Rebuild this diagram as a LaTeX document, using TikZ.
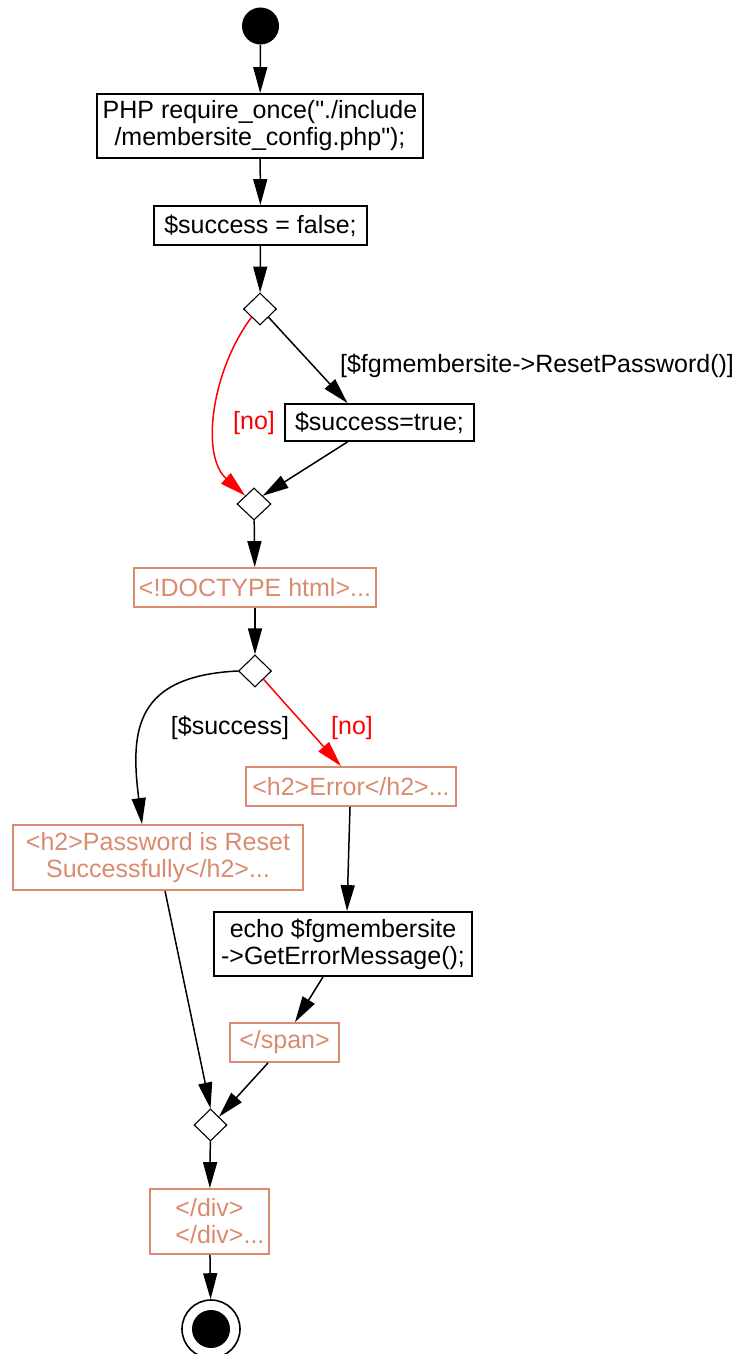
\documentclass[tikz,border=0pt]{standalone}
\usepackage{fontspec}
\setmainfont{Liberation Sans}[Ligatures=TeXOff]
\usetikzlibrary{shapes.geometric,arrows.meta}
\definecolor{htmlcol}{RGB}{218,138,110}

\begin{document}
\begin{tikzpicture}[x=1pt,y=-1pt,
  every node/.style={font=\fontsize{25}{27}\selectfont},
  action/.style={draw=black, line width=1.8pt, rectangle, inner sep=0pt, align=center, text=black},
  markup/.style={draw=htmlcol, line width=1.8pt, rectangle, inner sep=0pt, align=center, text=htmlcol},
  choice/.style={draw=black, line width=1.1pt, diamond, inner sep=0pt, minimum width=33pt, minimum height=32pt, fill=white},
  flow/.style={line width=1.5pt, -{Triangle[length=26pt,width=14pt]}},
  noflow/.style={flow, red},
  guard/.style={inner sep=0pt, text=black},
  noguard/.style={inner sep=0pt, text=red},
]
\useasboundingbox (0,0) rectangle (739,1354);

% activity nodes
\node[circle, fill=black, inner sep=0pt, minimum size=37pt] (start) at (260.5,26) {};
\node[action, minimum width=326pt, minimum height=64pt] (b1) at (260,126)
  {PHP require\_once("./include\\/membersite\_config.php");};
\node[action, minimum width=213pt, minimum height=39pt] (b2) at (260.5,225.5) {\$success = false;};
\node[choice] (d1) at (260,309) {};
\node[action, minimum width=189pt, minimum height=37pt] (b3) at (379.5,422.5) {\$success=true;};
\node[choice, minimum width=34pt] (d2) at (254,504) {};
\node[markup, minimum width=242pt, minimum height=39pt] (b4) at (255,587.5) {<!DOCTYPE html>...};
\node[choice] (d3) at (255,671) {};
\node[markup, minimum width=210pt, minimum height=39pt] (b5) at (351,786.5) {<h2>Error</h2>...};
\node[markup, minimum width=290pt, minimum height=65pt] (b6) at (158,857.5)
  {<h2>Password is Reset\\Successfully</h2>...};
\node[action, minimum width=258pt, minimum height=64pt] (b7) at (343,944)
  {echo \$fgmembersite\\->GetErrorMessage();};
\node[markup, minimum width=109pt, minimum height=39pt] (b8) at (284.5,1042.5) {</span>};
\node[choice] (d4) at (210.5,1125) {};
\node[markup, minimum width=119pt, minimum height=65pt] (b9) at (209.5,1221.5)
  {</div>\\\phantom{...}</div>...};
\node[circle, draw=black, line width=1.6pt, inner sep=0pt, minimum size=58pt] (finish) at (211,1329) {};
\node[circle, fill=black, inner sep=0pt, minimum size=38pt] (finishdot) at (finish) {};

% guards
\node[guard] (lreset) at (537,366) {[\$fgmembersite->ResetPassword()]};
\node[noguard] (lno1) at (254,423) {[no]};
\node[guard] (lsucc) at (230,728) {[\$success]};
\node[noguard] (lno2) at (352,728) {[no]};

% transitions
\draw[flow] (start) -- (b1);
\draw[flow] (b1) -- (b2);
\draw[flow] (b2) -- (d1);
\draw[flow] (d1.south east) -- ([xshift=-32pt]b3.north);
\draw[noflow] (d1.south west) .. controls (212,370) and (200,455) .. (d2.north west);
\draw[flow] ([xshift=-32pt]b3.south) -- (d2.north east);
\draw[flow] (d2) -- (b4);
\draw[flow] (b4) -- (d3);
\draw[flow] (d3.west) .. controls (135,676) and (130,730) .. ([xshift=-16pt]b6.north);
\draw[noflow] (d3.south east) -- ([xshift=-10pt]b5.north);
\draw[flow] ([xshift=-1pt]b5.south) -- ([xshift=4pt]b7.north);
\draw[flow] ([xshift=7pt]b6.south) -- (d4.north);
\draw[flow] ([xshift=-20pt]b7.south) -- ([xshift=10.5pt]b8.north);
\draw[flow] ([xshift=-16.5pt]b8.south) -- (d4.north east);
\draw[flow] (d4) -- (b9);
\draw[flow] (b9) -- (finish);
\end{tikzpicture}
\end{document}
